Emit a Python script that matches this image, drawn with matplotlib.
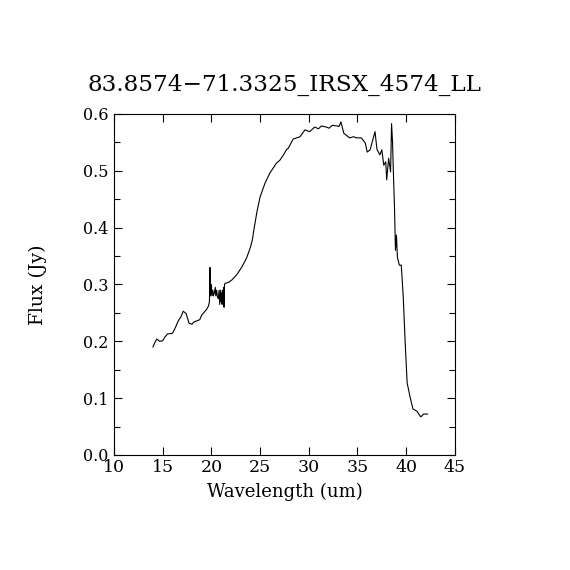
import matplotlib
matplotlib.use("Agg")
import matplotlib.pyplot as plt
from matplotlib.ticker import MultipleLocator

# spectrum values
wavelength = [14.0, 14.2, 14.4, 14.7, 15.0, 15.2, 15.5, 16.0, 16.3, 16.6, 16.9, 17.1,
              17.4, 17.7, 18.0, 18.2, 18.5, 18.8, 19.0, 19.2, 19.5, 19.7,
              19.8, 19.85, 19.9, 20.0, 20.05, 20.15, 20.2, 20.3, 20.4, 20.45, 20.55,
              20.6, 20.7, 20.8, 20.85, 20.95, 21.0, 21.05, 21.1, 21.15, 21.2, 21.25,
              21.3, 21.35, 21.4, 21.8, 22.1, 22.6, 23.1, 23.6, 24.0, 24.2, 24.4, 24.7,
              25.0, 25.5, 26.0, 26.7, 27.0, 27.4, 27.7, 27.9, 28.4, 29.1, 29.6, 30.1,
              30.6, 31.0, 31.3, 31.8, 32.1, 32.4, 32.9, 33.1, 33.3, 33.6, 34.2, 34.6,
              34.9, 35.4, 35.8, 36.0, 36.3, 36.8, 37.0, 37.3, 37.5, 37.7, 37.9, 38.0,
              38.2, 38.4, 38.5, 38.6, 38.7, 38.8, 38.9, 39.0, 39.1, 39.3, 39.5, 39.7,
              39.9, 40.1, 40.4, 40.7, 41.1, 41.5, 41.8, 42.2]
flux = [0.190, 0.198, 0.204, 0.200, 0.201, 0.207, 0.213, 0.214, 0.224, 0.236, 0.244, 0.253,
        0.249, 0.232, 0.230, 0.234, 0.236, 0.238, 0.246, 0.250, 0.256, 0.262,
        0.270, 0.330, 0.280, 0.300, 0.280, 0.290, 0.280, 0.285, 0.295, 0.280, 0.290,
        0.280, 0.275, 0.290, 0.265, 0.290, 0.270, 0.285, 0.265, 0.290, 0.270, 0.295,
        0.260, 0.300, 0.302, 0.304, 0.308, 0.317, 0.330, 0.346, 0.365, 0.378, 0.400, 0.430,
        0.454, 0.478, 0.496, 0.514, 0.518, 0.528, 0.537, 0.540, 0.556, 0.560, 0.572, 0.569,
        0.577, 0.574, 0.579, 0.577, 0.575, 0.580, 0.579, 0.578, 0.586, 0.566, 0.558, 0.560,
        0.558, 0.558, 0.549, 0.533, 0.537, 0.569, 0.538, 0.528, 0.537, 0.510, 0.516, 0.484,
        0.522, 0.498, 0.583, 0.551, 0.490, 0.437, 0.360, 0.387, 0.348, 0.334, 0.334, 0.278,
        0.197, 0.127, 0.102, 0.081, 0.077, 0.067, 0.072, 0.072]

title = "83.8574\u221271.3325_IRSX_4574_LL"

plt.rcParams['font.family'] = ['DejaVu Serif']

fig = plt.figure(figsize=(5.7, 5.7), dpi=100)
ax = fig.add_axes([0.2, 0.2018, 0.598, 0.5982])

ax.plot(wavelength, flux, color='black', linewidth=0.8)

ax.set_xlim(10, 45)
ax.set_ylim(0, 0.6)
ax.xaxis.set_major_locator(MultipleLocator(5))
ax.yaxis.set_major_locator(MultipleLocator(0.1))
ax.yaxis.set_minor_locator(MultipleLocator(0.05))
ax.yaxis.set_major_formatter(plt.FormatStrFormatter('%.1f'))
ax.tick_params(which='both', direction='in', top=True, right=True,
               width=0.8, color='black')
ax.tick_params(axis='x', labelsize=12.5, pad=3)
ax.tick_params(axis='y', labelsize=11.5, pad=4)
ax.tick_params(which='major', length=6)
ax.tick_params(which='minor', length=4)
for s in ax.spines.values():
    s.set_linewidth(0.8)

ax.set_xlabel('Wavelength (um)', fontsize=13, labelpad=5)
ax.set_ylabel('Flux (Jy)', fontsize=13.5, labelpad=26)
ax.set_title(title, fontsize=16.7, pad=17)

fig.savefig('out.png', dpi=100)
